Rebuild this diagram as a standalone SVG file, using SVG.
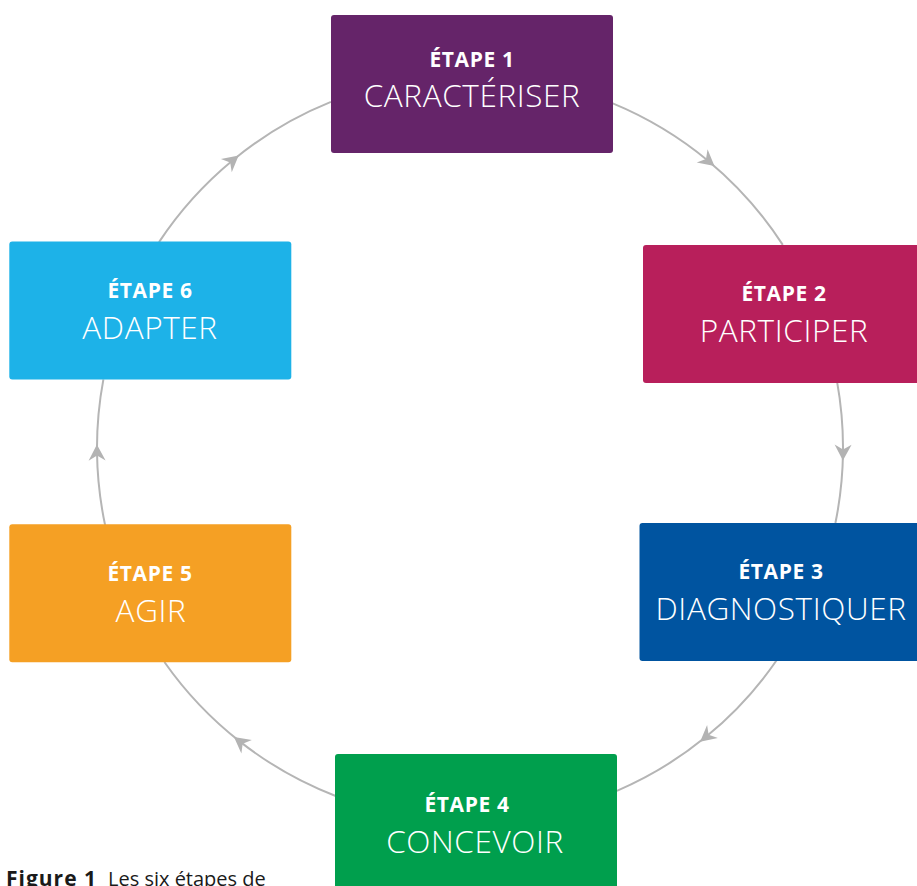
<svg xmlns="http://www.w3.org/2000/svg" width="917" height="886" viewBox="0 0 917 886">
  <style>
    .box { stroke: none; }
    .step { font-family: "Open Sans", "Liberation Sans", sans-serif; font-weight: 700; font-size: 21px; letter-spacing: 0.6px; fill: #ffffff; text-anchor: middle; }
    .name { font-family: "Open Sans", "Liberation Sans", sans-serif; font-weight: 300; font-size: 31.5px; letter-spacing: 0.6px; fill: #ffffff; text-anchor: middle; }
    .arc { fill: none; stroke: #b5b5b5; stroke-width: 2; marker-mid: url(#arrow); }
    .caption { font-family: "Open Sans", "Liberation Sans", sans-serif; font-size: 20px; fill: #1a1a1a; }
  </style>
  <defs>
    <marker id="arrow" markerUnits="userSpaceOnUse" markerWidth="20" markerHeight="20" refX="0" refY="0" orient="auto" overflow="visible">
      <path d="M 8 0 L -8 -8.5 L -3 0 L -8 8.5 Z" fill="#b3b3b3"/>
    </marker>
  </defs>

  <rect width="917" height="886" fill="#ffffff"/>

  <!-- cycle connectors: arcs of one circle (centre 470,448, r 373) between the boxes -->
  <g id="connectors">
    <path class="arc" d="M 612.2 103.2 A 373 373 0 0 1 708.3 161.0 A 373 373 0 0 1 782.8 244.9"/>
    <path class="arc" d="M 837.1 381.9 A 373 373 0 0 1 843.0 452.6 A 373 373 0 0 1 835.4 523.0"/>
    <path class="arc" d="M 777.0 659.8 A 373 373 0 0 1 706.3 736.6 A 373 373 0 0 1 616.9 790.8"/>
    <path class="arc" d="M 336.3 796.2 A 373 373 0 0 1 240.3 741.9 A 373 373 0 0 1 164.4 662.0"/>
    <path class="arc" d="M 105.2 525.5 A 373 373 0 0 1 97.0 452.6 A 373 373 0 0 1 103.4 379.4"/>
    <path class="arc" d="M 159.0 242.1 A 373 373 0 0 1 232.5 160.5 A 373 373 0 0 1 330.9 101.9"/>
  </g>

  <g id="step1">
    <rect class="box" x="331" y="15" width="282" height="138" rx="3" fill="#652469"/>
    <text class="step" x="472" y="67.3">ÉTAPE 1</text>
    <text class="name" x="472" y="106.7">CARACTÉRISER</text>
  </g>

  <g id="step2">
    <rect class="box" x="643" y="245" width="282" height="138" rx="3" fill="#b81f5b"/>
    <text class="step" x="784" y="301">ÉTAPE 2</text>
    <text class="name" x="784" y="341.7">PARTICIPER</text>
  </g>

  <g id="step3">
    <rect class="box" x="639.5" y="523" width="282" height="138" rx="3" fill="#0054a0"/>
    <text class="step" x="781" y="579">ÉTAPE 3</text>
    <text class="name" x="781" y="619.7">DIAGNOSTIQUER</text>
  </g>

  <g id="step4">
    <rect class="box" x="335" y="754" width="282" height="140" rx="3" fill="#009f4d"/>
    <text class="step" x="467" y="812.3">ÉTAPE 4</text>
    <text class="name" x="475" y="853">CONCEVOIR</text>
  </g>

  <g id="step5">
    <rect class="box" x="9.3" y="524.3" width="282" height="138" rx="3" fill="#f5a024"/>
    <text class="step" x="150" y="581">ÉTAPE 5</text>
    <text class="name" x="151" y="621.7">AGIR</text>
  </g>

  <g id="step6">
    <rect class="box" x="9.3" y="241.5" width="282" height="138" rx="3" fill="#1db2e8"/>
    <text class="step" x="150" y="298">ÉTAPE 6</text>
    <text class="name" x="150" y="339">ADAPTER</text>
  </g>

  <text class="caption" x="6" y="886"><tspan font-weight="700" font-size="21" letter-spacing="1">Figure 1</tspan><tspan x="108">Les six étapes de</tspan></text>
</svg>
